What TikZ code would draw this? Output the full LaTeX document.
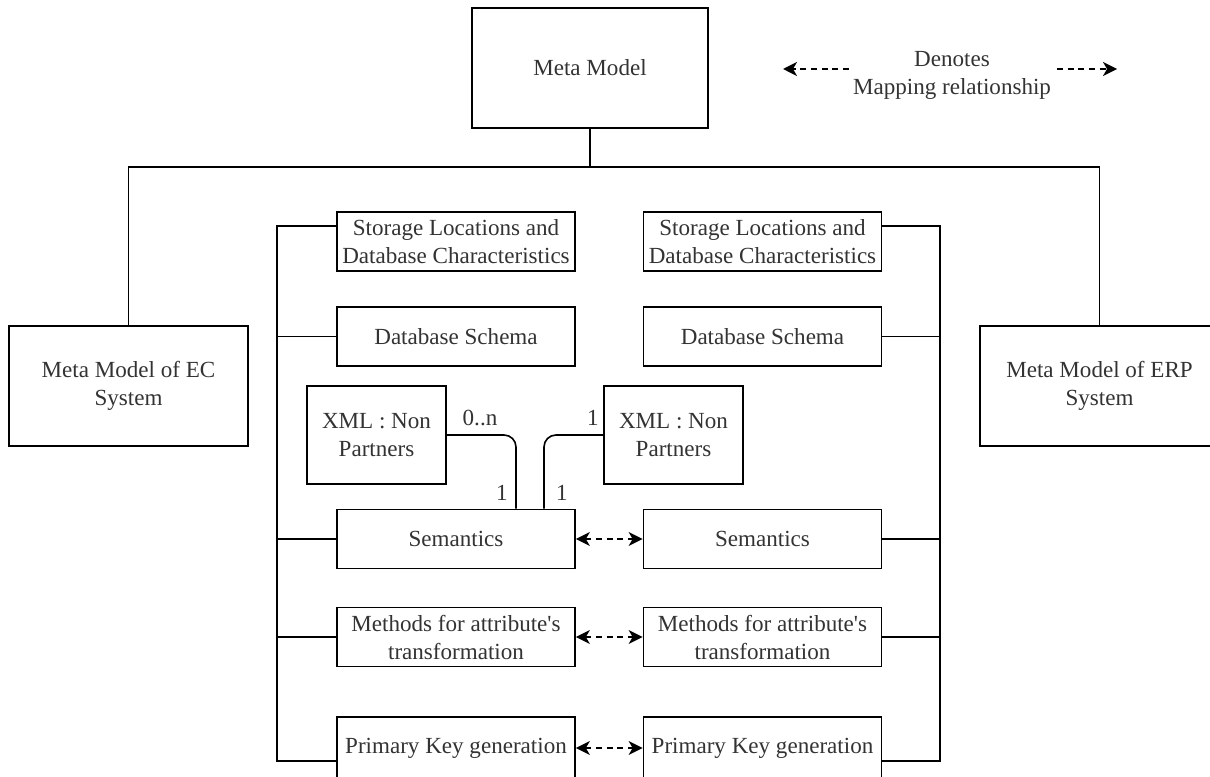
\documentclass[tikz,border=0pt]{standalone}
\usepackage{fontspec}
\setmainfont{Liberation Serif}[Ligatures=TeXOff]
\usetikzlibrary{arrows.meta,calc}
\tikzset{
  txt/.style={text=black!80, font=\fontsize{17.3}{21}\selectfont},
  box/.style={draw, line width=1.3pt, align=center, inner sep=0pt, txt},
  topbox/.style={box, minimum width=177pt, minimum height=90pt},
  sysbox/.style={box, minimum width=179.25pt, minimum height=90pt},
  colbox/.style={box, minimum width=178.5pt, minimum height=44.25pt},
  xmlbox/.style={box, minimum width=104.25pt, minimum height=73.5pt},
  wire/.style={line width=1.2pt},
  map/.style={line width=1.2pt, dash pattern=on 4.5pt off 3.5pt},
  mapboth/.style={map, {Stealth[length=10.5pt,width=10.5pt,inset=3pt]}-{Stealth[length=10.5pt,width=10.5pt,inset=3pt]}},
  mapone/.style={map, -{Stealth[length=10.5pt,width=10.5pt,inset=3pt]}},
  mult/.style={txt, inner sep=0pt, anchor=base},
}
\begin{document}
\begin{tikzpicture}[x=0.75pt,y=-0.75pt]
\useasboundingbox (0,0) rectangle (1210,777);
\clip (0,0) rectangle (1210,777);

% top level
\node[topbox] (mm) at (590,68) {Meta Model};
\node[sysbox] (ec) at (128.5,386) {Meta Model of EC\\System};
\node[sysbox] (erp) at (1099.5,386) {Meta Model of ERP\\System};

% legend
\coordinate (lga) at (849,69);
\coordinate (lgb) at (783,69);
\coordinate (lgc) at (1057,69);
\coordinate (lgd) at (1117,69);
\node[txt, align=center, inner sep=0pt] (lgt) at (952,75) {Denotes\\Mapping relationship};
\draw[mapone] (lga) -- (lgb);
\draw[mapone] (lgc) -- (lgd);

% EC side column
\node[colbox] (sl) at (456,241.5) {Storage Locations and\\Database Characteristics};
\node[colbox] (dl) at (456,336.5) {Database Schema};
\node[xmlbox] (xl) at (376.5,435) {XML : Non\\Partners};
\node[colbox] (seml) at (456,539) {Semantics};
\node[colbox] (ml) at (456,637) {Methods for attribute's\\transformation};
\node[colbox, minimum height=46.5pt] (pl) at (456,748) {Primary Key generation};

% ERP side column
\node[colbox] (sr) at (762.5,241.5) {Storage Locations and\\Database Characteristics};
\node[colbox] (dr) at (762.5,336.5) {Database Schema};
\node[xmlbox] (xr) at (673.5,435) {XML : Non\\Partners};
\node[colbox] (semr) at (762.5,539) {Semantics};
\node[colbox] (mr) at (762.5,637) {Methods for attribute's\\transformation};
\node[colbox, minimum height=46.5pt] (pr) at (762.5,748) {Primary Key generation};

% hierarchy from the meta model
\coordinate (bus) at (0,167);
\draw[wire] (mm.south) -- (mm.south |- bus);
\draw[wire] (ec.north) |- (erp.north |- bus) -- (erp.north);

% left trunk
\coordinate (ltrunk) at (277,0);
\coordinate (sla) at ($(sl.north west)+(0,15)$);
\coordinate (pla) at ($(pl.north west)+(0,45)$);
\draw[wire] (sla) -| (pla -| ltrunk) -- (pla);
\draw[wire] (dl.west) -- (dl.west -| ltrunk);
\draw[wire] (seml.west) -- (seml.west -| ltrunk);
\draw[wire] (ml.west) -- (ml.west -| ltrunk);

% right trunk
\coordinate (rtrunk) at (940,0);
\coordinate (sra) at ($(sr.north east)+(0,15)$);
\coordinate (pra) at ($(pr.north east)+(0,45)$);
\draw[wire] (sra) -| (pra -| rtrunk) -- (pra);
\draw[wire] (dr.east) -- (dr.east -| rtrunk);
\draw[wire] (semr.east) -- (semr.east -| rtrunk);
\draw[wire] (mr.east) -- (mr.east -| rtrunk);

% XML associations to semantics
\coordinate (ja) at ([xshift=45pt]seml.north);
\coordinate (jb) at ([xshift=66pt]seml.north);
\draw[wire, rounded corners=9pt] (xl.east) -| (ja);
\draw[wire, rounded corners=9pt] (xr.west) -| (jb);
\node[mult] (m1) at (480,425) {0..n};
\node[mult] (m2) at (593,425) {1};
\node[mult] (m3) at (502,500) {1};
\node[mult] (m4) at (562,500) {1};

% mapping relationships
\draw[mapboth] (seml.east) -- (semr.west);
\draw[mapboth] (ml.east) -- (mr.west);
\draw[mapboth] (pl.east) -- (pr.west);
\end{tikzpicture}
\end{document}
